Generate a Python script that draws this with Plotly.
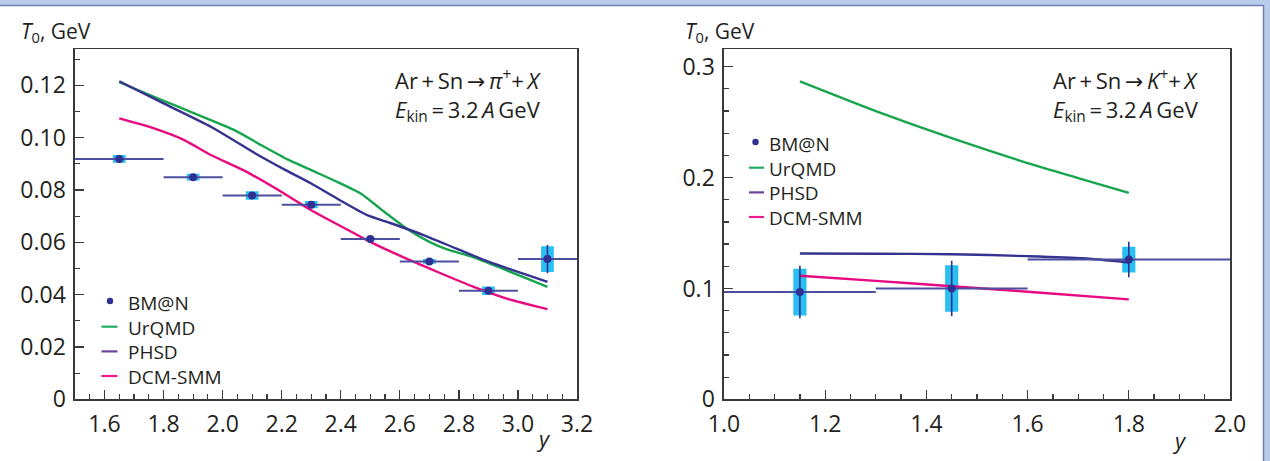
import plotly.graph_objects as go

# ---------------- data: pi+ (left panel) ----------------
pi_y = [1.65, 1.9, 2.1, 2.3, 2.5, 2.7, 2.9, 3.1]
pi_bin_half = [0.15, 0.1, 0.1, 0.1, 0.1, 0.1, 0.1, 0.1]
pi_T = [0.0919, 0.0849, 0.0779, 0.0744, 0.0613, 0.0527, 0.0415, 0.0536]
pi_stat = [0.0008, 0.0006, 0.0008, 0.0007, 0.0005, 0.0006, 0.0008, 0.0054]
pi_sys = [0.0015, 0.0013, 0.0016, 0.0014, 0.0005, 0.0009, 0.0016, 0.0049]

ur_pi_x = [1.65, 1.79, 1.90, 2.04, 2.13, 2.22, 2.30, 2.39, 2.47, 2.54, 2.63, 2.70, 2.76, 2.85, 2.96, 3.10]
ur_pi_T = [0.1212, 0.1146, 0.1095, 0.1029, 0.0972, 0.0917, 0.0876, 0.0830, 0.0785, 0.0723, 0.0647, 0.0602, 0.0573, 0.0543, 0.0494, 0.0430]

ph_pi_x = [1.65, 1.79, 1.96, 2.12, 2.21, 2.30, 2.39, 2.49, 2.57, 2.68, 2.79, 2.90, 3.10]
ph_pi_T = [0.1216, 0.1137, 0.1042, 0.0934, 0.0878, 0.0825, 0.0766, 0.0704, 0.0673, 0.0628, 0.0577, 0.0526, 0.0449]

dc_pi_x = [1.65, 1.75, 1.87, 1.96, 2.07, 2.18, 2.30, 2.41, 2.51, 2.62, 2.74, 2.85, 2.96, 3.10]
dc_pi_T = [0.1074, 0.1042, 0.0991, 0.0934, 0.0876, 0.0806, 0.0723, 0.0656, 0.0596, 0.0539, 0.0481, 0.0430, 0.0386, 0.0345]

# ---------------- data: K+ (right panel) ----------------
k_y = [1.15, 1.45, 1.8]
k_bin_half = [0.15, 0.15, 0.2]
k_T = [0.0967, 0.1000, 0.1260]
k_stat = [0.0237, 0.0250, 0.0160]
k_sys = [0.0210, 0.0210, 0.0117]

ur_k_x = [1.15, 1.30, 1.45, 1.60, 1.70, 1.80]
ur_k_T = [0.2868, 0.2600, 0.2355, 0.2130, 0.1995, 0.1862]

ph_k_x = [1.15, 1.30, 1.45, 1.60, 1.71, 1.80]
ph_k_T = [0.1315, 0.1313, 0.1309, 0.1291, 0.1272, 0.1234]

dc_k_x = [1.15, 1.30, 1.45, 1.60, 1.80]
dc_k_T = [0.1114, 0.1068, 0.1020, 0.0970, 0.0901]

# tick labels
pi_xticks = [1.6, 1.8, 2.0, 2.2, 2.4, 2.6, 2.8, 3.0, 3.2]
pi_xticktext = ["1.6", "1.8", "2.0", "2.2", "2.4", "2.6", "2.8", "3.0", "3.2"]
pi_yticks = [0, 0.02, 0.04, 0.06, 0.08, 0.10, 0.12]
pi_yticktext = ["0", "0.02", "0.04", "0.06", "0.08", "0.10", "0.12"]
k_xticks = [1.0, 1.2, 1.4, 1.6, 1.8, 2.0]
k_xticktext = ["1.0", "1.2", "1.4", "1.6", "1.8", "2.0"]
k_yticks = [0, 0.1, 0.2, 0.3]
k_yticktext = ["0", "0.1", "0.2", "0.3"]

legend_names = ["BM@N", "UrQMD", "PHSD", "DCM-SMM"]

# ---------------- styling ----------------
W, H = 1270, 461
NAVY = "#2e3192"
BINC = "#4c4f9f"
CYAN = "#29bff0"
GREEN = "#18a54f"
PHSD = "#35338f"
PINK = "#e8087f"
LEG_COLORS = [NAVY, "#22ad62", "#6c44a0", "#ec1a8c"]
AXC = "#3a3a3a"
TXT = "#231f20"
FONT = "Open Sans"
BAND = "#b9cbea"
EDGE = "#6f80b0"


def px_x(p):
    return p / W


def px_y(p):
    return 1 - p / H


fig = go.Figure()


def add_panel(xa, ya, xs, half, T, stat, sys, boxw, models):
    fig.add_trace(go.Bar(x=xs, y=[2 * s for s in sys], base=[t - s for t, s in zip(T, sys)],
                         width=boxw, marker=dict(color=CYAN, line=dict(width=0)),
                         xaxis=xa, yaxis=ya, showlegend=False, hoverinfo="skip"))
    for name, mx, my, col in models:
        fig.add_trace(go.Scatter(x=mx, y=my, mode="lines", name=name,
                                 line=dict(color=col, width=2.4, shape="spline", smoothing=0.6),
                                 xaxis=xa, yaxis=ya, showlegend=False))
    fig.add_trace(go.Scatter(x=xs, y=T, mode="markers", name="BM@N",
                             marker=dict(color=NAVY, size=8),
                             error_x=dict(type="data", array=half, width=0, thickness=2, color=BINC),
                             error_y=dict(type="data", array=stat, width=0, thickness=1.6, color=NAVY),
                             xaxis=xa, yaxis=ya, showlegend=False))


add_panel("x", "y", pi_y, pi_bin_half, pi_T, pi_stat, pi_sys, 0.043,
          [("UrQMD", ur_pi_x, ur_pi_T, GREEN), ("PHSD", ph_pi_x, ph_pi_T, PHSD),
           ("DCM-SMM", dc_pi_x, dc_pi_T, PINK)])
add_panel("x2", "y2", k_y, k_bin_half, k_T, k_stat, k_sys, 0.026,
          [("UrQMD", ur_k_x, ur_k_T, GREEN), ("PHSD", ph_k_x, ph_k_T, PHSD),
           ("DCM-SMM", dc_k_x, dc_k_T, PINK)])

tickfont = dict(family=FONT, size=23, color=TXT)
common = dict(showline=True, linecolor=AXC, linewidth=1.6, mirror=True, ticks="inside",
              ticklen=9, tickwidth=1.3, tickcolor=AXC, showgrid=False, zeroline=False,
              tickfont=tickfont, fixedrange=True, automargin=False, ticklabelstandoff=3)

ydom = [px_y(399.3), px_y(49.3)]

fig.update_layout(
    width=W, height=H, margin=dict(l=0, r=0, t=0, b=0, pad=0),
    paper_bgcolor=BAND, plot_bgcolor="white", barmode="overlay", showlegend=False,
    xaxis=dict(domain=[px_x(75), px_x(577)], range=[1.5, 3.2], anchor="y",
               tickmode="array", tickvals=pi_xticks, ticktext=pi_xticktext,
               minor=dict(tickmode="linear", tick0=1.5, dtick=0.05, ticks="inside", ticklen=5,
                          tickwidth=1.2, tickcolor=AXC), **common),
    yaxis=dict(domain=ydom, range=[0, 0.1338], anchor="x",
               tickmode="array", tickvals=pi_yticks, ticktext=pi_yticktext,
               minor=dict(tickmode="linear", tick0=0, dtick=0.01, ticks="inside", ticklen=5,
                          tickwidth=1.2, tickcolor=AXC), **common),
    xaxis2=dict(domain=[px_x(724), px_x(1230)], range=[1.0, 2.0], anchor="y2",
                tickmode="array", tickvals=k_xticks, ticktext=k_xticktext,
                minor=dict(tickmode="linear", tick0=1.0, dtick=0.05, ticks="inside", ticklen=5,
                           tickwidth=1.2, tickcolor=AXC), **common),
    yaxis2=dict(domain=ydom, range=[0, 0.3157], anchor="x2",
                tickmode="array", tickvals=k_yticks, ticktext=k_yticktext,
                minor=dict(tickmode="linear", tick0=0, dtick=0.02, ticks="inside", ticklen=5,
                           tickwidth=1.2, tickcolor=AXC), **common),
)

annfont = dict(family=FONT, size=22, color=TXT)
ARROW = "<span style=\"font-family:'DejaVu Sans'\">\u2192</span>"
EKIN = "<i>E</i><sub>kin</sub>\u2009=\u20093.2\u2009<i>A</i>\u2009GeV"
anns = [
    dict(text="<i>T</i><sub>0</sub>, GeV", x=px_x(19), y=px_y(32), xanchor="left", yanchor="middle",
         font=dict(family=FONT, size=21, color=TXT)),
    dict(text="<i>T</i><sub>0</sub>, GeV", x=px_x(683), y=px_y(32), xanchor="left", yanchor="middle",
         font=dict(family=FONT, size=21, color=TXT)),
    dict(text="Ar\u2009+\u2009Sn\u2009" + ARROW + "\u2009<i>\u03c0</i><sup>+</sup>+\u2009<i>X</i><br>" + EKIN,
         x=px_x(393), y=px_y(95), xanchor="left", yanchor="middle", align="left", font=annfont),
    dict(text="Ar\u2009+\u2009Sn\u2009" + ARROW + "\u2009<i>K</i><sup>+</sup>+\u2009<i>X</i><br>" + EKIN,
         x=px_x(1051), y=px_y(95), xanchor="left", yanchor="middle", align="left", font=annfont),
    dict(text="<i>y</i>", x=px_x(543), y=px_y(438), xanchor="center", yanchor="middle", font=annfont),
    dict(text="<i>y</i>", x=px_x(1179), y=px_y(440), xanchor="center", yanchor="middle", font=annfont),
]

# page frame: light-blue paper, white sheet below the top band and left of the right band
shapes = [
    dict(type="rect", xref="paper", yref="paper", x0=-0.01, x1=px_x(1263.5), y0=-0.01, y1=px_y(5.5),
         fillcolor="white", line=dict(width=0), layer="below"),
    dict(type="line", xref="paper", yref="paper", x0=-0.01, x1=px_x(1264.2), y0=px_y(5.5), y1=px_y(5.5),
         line=dict(color=EDGE, width=1.5), layer="above"),
    dict(type="line", xref="paper", yref="paper", x0=px_x(1263.5), x1=px_x(1263.5), y0=-0.01, y1=px_y(5.5),
         line=dict(color=EDGE, width=1.5), layer="above"),
]

# hand-placed legends (key glyphs + one multi-line label block), positions in pixels
legend_specs = [
    # text_x, marker_x, line_x0, line_x1, row y centres
    (126, 110, 101.5, 117.5, [302, 326.7, 351.4, 376]),
    (767, 755.5, 749, 764, [143, 167.7, 192.4, 217]),
]
for tx, mx, lx0, lx1, rows in legend_specs:
    anns.append(dict(text="<br>".join(legend_names), x=px_x(tx), y=px_y(sum(rows) / len(rows) + 1),
                     xanchor="left", yanchor="middle", align="left",
                     font=dict(family=FONT, size=19, color=TXT)))
    for i, ry in enumerate(rows):
        if i == 0:
            shapes.append(dict(type="circle", xref="paper", yref="paper",
                               x0=px_x(mx - 3.2), x1=px_x(mx + 3.2), y0=px_y(ry - 1 + 3.2), y1=px_y(ry - 1 - 3.2),
                               fillcolor=LEG_COLORS[0], line=dict(width=0)))
        else:
            shapes.append(dict(type="line", xref="paper", yref="paper", x0=px_x(lx0), x1=px_x(lx1),
                               y0=px_y(ry), y1=px_y(ry), line=dict(color=LEG_COLORS[i], width=2.2)))

for a in anns:
    a.update(xref="paper", yref="paper", showarrow=False)
fig.update_layout(annotations=anns, shapes=shapes)

fig.write_html("out.html", config={"displayModeBar": False, "staticPlot": True},
               post_script="document.body.style.margin='0';document.body.style.overflow='hidden';")
